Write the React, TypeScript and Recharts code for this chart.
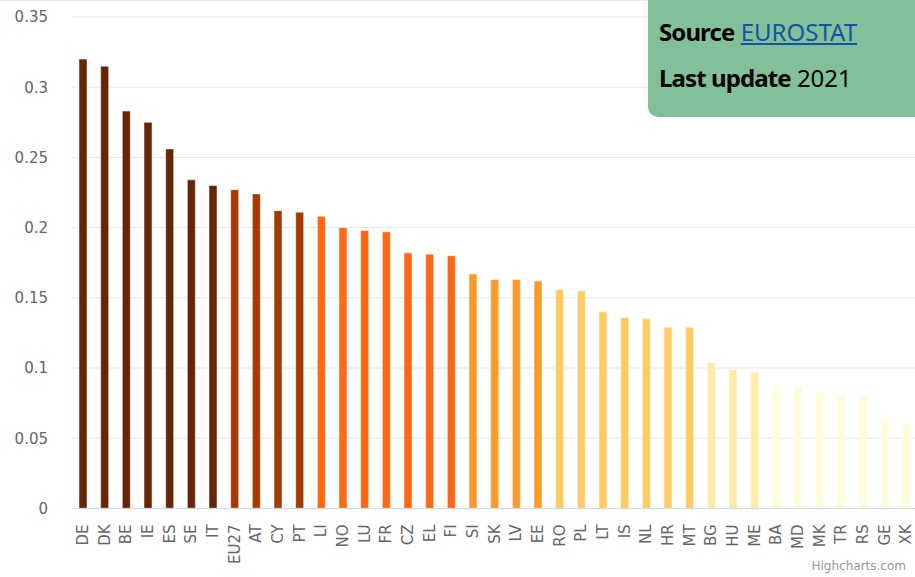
import React from 'react'
import { BarChart, Bar, XAxis, YAxis, CartesianGrid, Cell } from 'recharts'

const countries = [
  'DE', 'DK', 'BE', 'IE', 'ES', 'SE', 'IT', 'EU27', 'AT', 'CY', 'PT', 'LI', 'NO',
  'LU', 'FR', 'CZ', 'EL', 'FI', 'SI', 'SK', 'LV', 'EE', 'RO', 'PL', 'LT', 'IS',
  'NL', 'HR', 'MT', 'BG', 'HU', 'ME', 'BA', 'MD', 'MK', 'TR', 'RS', 'GE', 'XK',
]

const values = [
  0.32, 0.315, 0.283, 0.275, 0.256, 0.234, 0.23, 0.227, 0.224, 0.212, 0.211, 0.208, 0.2,
  0.198, 0.197, 0.182, 0.181, 0.18, 0.167, 0.163, 0.163, 0.162, 0.156, 0.155, 0.14, 0.136,
  0.135, 0.129, 0.129, 0.104, 0.099, 0.097, 0.086, 0.086, 0.083, 0.081, 0.08, 0.064, 0.06,
]

const yTicks = [0, 0.05, 0.1, 0.15, 0.2, 0.25, 0.3, 0.35]

// class breaks, highest first
const classBreaks = [0.229, 0.21, 0.175, 0.16, 0.12, 0.09]
const palette = ['#662506', '#a33b03', '#ff6713', '#fc992b', '#fecb62', '#ffeba6', '#fffcdb']

const data = countries.map((name, i) => ({ name, value: values[i] }))

const colorFor = (v: number) => {
  const idx = classBreaks.findIndex(b => v >= b)
  return palette[idx === -1 ? palette.length - 1 : idx]
}

const axisFont = '"DejaVu Sans", Verdana, sans-serif'

function XTick(props: any) {
  const { x, y, payload } = props
  return (
    <g transform={`translate(${x},${y})`}>
      <text
        transform="rotate(-90)"
        textAnchor="end"
        dy="0.35em"
        fill="#666666"
        fontSize={15}
        fontFamily={axisFont}
      >
        {payload.value}
      </text>
    </g>
  )
}

const boldStyle = { fontWeight: 700, letterSpacing: '-0.9px' }

export default function App() {
  return (
    <div
      style={{
        position: 'fixed',
        left: 0,
        top: 0,
        width: 915,
        height: 577,
        overflow: 'hidden',
        background: '#ffffff',
      }}
    >
      <div style={{ position: 'absolute', left: 0, top: 0, width: 915, height: 1, background: '#e8e8e8' }} />
      <BarChart
        width={920}
        height={577}
        data={data}
        margin={{ top: 17, right: 3, bottom: 0, left: 0 }}
      >
        <CartesianGrid vertical={false} stroke="#e6e6e6" />
        <XAxis
          dataKey="name"
          interval={0}
          height={68.6}
          axisLine={{ stroke: '#ccd6eb' }}
          tickLine={false}
          tickMargin={10}
          tick={<XTick />}
        />
        <YAxis
          domain={[0, 0.35]}
          ticks={yTicks}
          width={72}
          axisLine={false}
          tickLine={false}
          tickMargin={18}
          tick={{ fill: '#666666', fontSize: 15, fontFamily: axisFont }}
        />
        <Bar dataKey="value" barSize={8} isAnimationActive={false} stroke="#ffffff" strokeWidth={0.5}>
          {data.map(d => (
            <Cell key={d.name} fill={colorFor(d.value)} />
          ))}
        </Bar>
      </BarChart>

      <div
        style={{
          position: 'absolute',
          left: 648,
          top: 0,
          width: 267,
          height: 117,
          background: '#82c09a',
          borderBottomLeftRadius: 10,
          fontFamily: '"Noto Sans", sans-serif',
          fontSize: 24,
          color: '#000000',
        }}
      >
        <div style={{ position: 'absolute', left: 11, top: 16, lineHeight: '32px', whiteSpace: 'nowrap' }}>
          <span style={boldStyle}>Source</span>{' '}
          <a href="#" style={{ color: '#1553a5', textDecoration: 'underline' }}>EUROSTAT</a>
        </div>
        <div style={{ position: 'absolute', left: 11, top: 62, lineHeight: '32px', whiteSpace: 'nowrap' }}>
          <span style={boldStyle}>Last update</span> 2021
        </div>
      </div>

      <div
        style={{
          position: 'absolute',
          left: 811.5,
          top: 559,
          fontFamily: axisFont,
          fontSize: 12,
          lineHeight: '14px',
          color: '#999999',
          whiteSpace: 'nowrap',
        }}
      >
        Highcharts.com
      </div>
    </div>
  )
}
